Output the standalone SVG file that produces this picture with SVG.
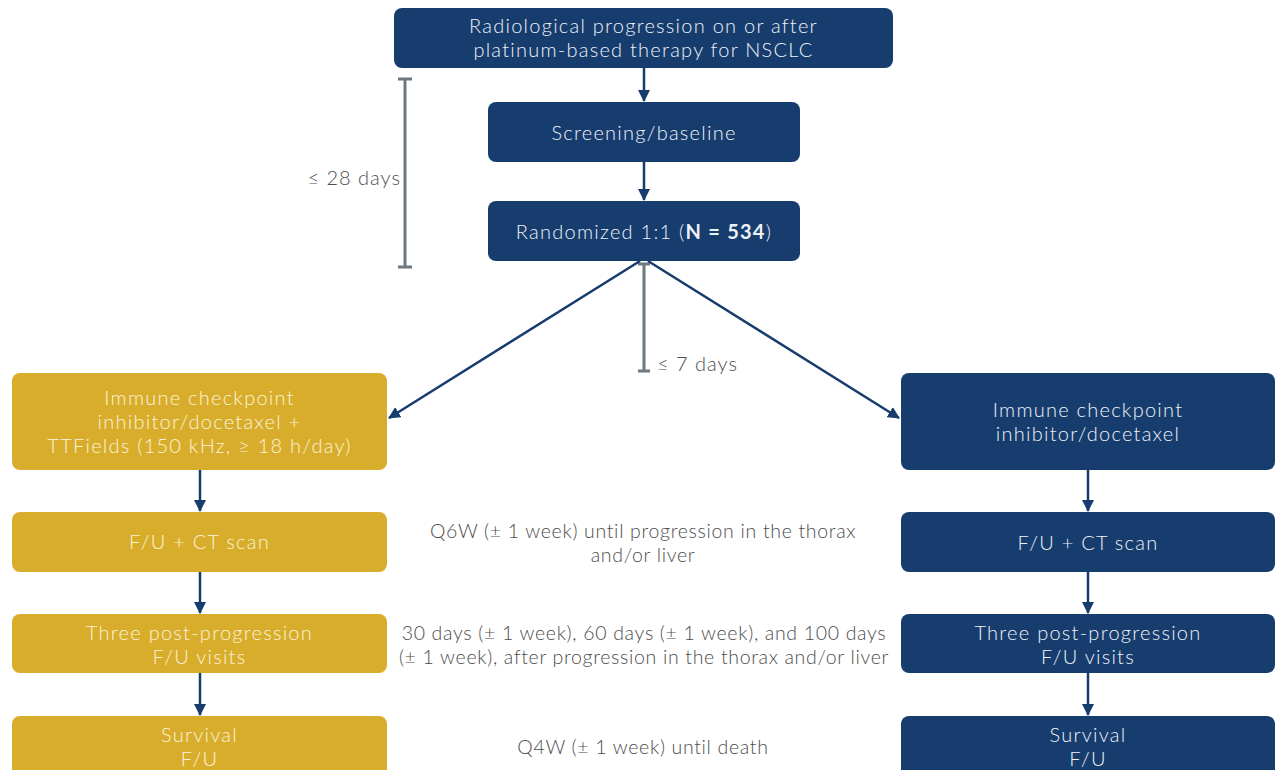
<svg xmlns="http://www.w3.org/2000/svg" width="1276" height="770" viewBox="0 0 1276 770">
  <style>
    .navy { fill: #173d6f; }
    .gold { fill: #d8ad2b; }
    .lbl { font-family: Lato, "Open Sans", "Liberation Sans", sans-serif; font-size: 20px; font-weight: 300; letter-spacing: 1.25px; fill: #eef2f7; text-anchor: middle; }
    .lblg { font-family: Lato, "Open Sans", "Liberation Sans", sans-serif; font-size: 20px; font-weight: 300; letter-spacing: 1.25px; fill: #fbf3dc; text-anchor: middle; }
    .note { font-family: Lato, "Open Sans", "Liberation Sans", sans-serif; font-size: 19.5px; font-weight: 300; letter-spacing: 0.68px; fill: #4d4d4d; text-anchor: middle; }
    .side { font-family: Lato, "Open Sans", "Liberation Sans", sans-serif; font-size: 20px; font-weight: 300; letter-spacing: 1px; fill: #4d4d4d; }
    .edge { stroke: #173d6f; stroke-width: 2.5; fill: none; }
    .span { stroke: #6d787f; stroke-width: 3; fill: none; }
  </style>
  <defs>
    <marker id="ah" viewBox="0 0 12 12" refX="11" refY="6" markerWidth="12" markerHeight="12" markerUnits="userSpaceOnUse" orient="auto">
      <path d="M0,0 L12,6 L0,12 Z" fill="#173d6f"/>
    </marker>
  </defs>
  <rect width="1276" height="770" fill="#ffffff"/>

  <!-- timing brackets -->
  <g id="span-28">
    <path class="span" d="M398,79 H412 M405,79 V267 M398,267 H412"/>
    <text class="side" x="401" y="185" text-anchor="end">≤ 28 days</text>
  </g>
  <g id="span-7">
    <path class="span" d="M638,264 H650 M644,264 V371 M638,371 H650"/>
    <text class="side" x="657" y="371" text-anchor="start">≤ 7 days</text>
  </g>

  <!-- connectors -->
  <g id="connectors">
    <line class="edge" x1="644" y1="68" x2="644" y2="101" marker-end="url(#ah)"/>
    <line class="edge" x1="644" y1="162" x2="644" y2="200" marker-end="url(#ah)"/>
    <line class="edge" x1="640" y1="261" x2="389" y2="418" marker-end="url(#ah)"/>
    <line class="edge" x1="648" y1="261" x2="899" y2="418" marker-end="url(#ah)"/>
    <line class="edge" x1="200" y1="470" x2="200" y2="511" marker-end="url(#ah)"/>
    <line class="edge" x1="200" y1="572" x2="200" y2="613" marker-end="url(#ah)"/>
    <line class="edge" x1="200" y1="673" x2="200" y2="715" marker-end="url(#ah)"/>
    <line class="edge" x1="1088" y1="470" x2="1088" y2="511" marker-end="url(#ah)"/>
    <line class="edge" x1="1088" y1="572" x2="1088" y2="613" marker-end="url(#ah)"/>
    <line class="edge" x1="1088" y1="673" x2="1088" y2="715" marker-end="url(#ah)"/>
  </g>

  <!-- top of flow -->
  <g id="progression">
    <rect class="navy" x="394" y="8" width="499" height="60" rx="8"/>
    <text class="lbl" x="643.5" y="33">Radiological progression on or after<tspan x="643.5" dy="24">platinum-based therapy for NSCLC</tspan></text>
  </g>
  <g id="screening">
    <rect class="navy" x="488" y="102" width="312" height="60" rx="8"/>
    <text class="lbl" x="644" y="140">Screening/baseline</text>
  </g>
  <g id="randomized">
    <rect class="navy" x="488" y="201" width="312" height="60" rx="8"/>
    <text class="lbl" x="644" y="239">Randomized 1:1 (<tspan font-weight="700">N = 534</tspan>)</text>
  </g>

  <!-- TTFields arm -->
  <g id="arm-ttf">
    <rect class="gold" x="12" y="373" width="375" height="97" rx="8"/>
    <text class="lblg" x="199.5" y="405">Immune checkpoint<tspan x="199.5" dy="24">inhibitor/docetaxel +</tspan><tspan x="199.5" dy="24">TTFields (150 kHz, ≥ 18 h/day)</tspan></text>
  </g>
  <g id="ttf-ct">
    <rect class="gold" x="12" y="512" width="375" height="60" rx="8"/>
    <text class="lblg" x="199.5" y="549">F/U + CT scan</text>
  </g>
  <g id="ttf-post">
    <rect class="gold" x="12" y="614" width="375" height="59" rx="8"/>
    <text class="lblg" x="199.5" y="640">Three post-progression<tspan x="199.5" dy="24">F/U visits</tspan></text>
  </g>
  <g id="ttf-survival">
    <rect class="gold" x="12" y="716" width="375" height="70" rx="8"/>
    <text class="lblg" x="199.5" y="742">Survival<tspan x="199.5" dy="24">F/U</tspan></text>
  </g>

  <!-- control arm -->
  <g id="arm-ctrl">
    <rect class="navy" x="901" y="373" width="374" height="97" rx="8"/>
    <text class="lbl" x="1088" y="417">Immune checkpoint<tspan x="1088" dy="24">inhibitor/docetaxel</tspan></text>
  </g>
  <g id="ctrl-ct">
    <rect class="navy" x="901" y="512" width="374" height="60" rx="8"/>
    <text class="lbl" x="1088" y="550">F/U + CT scan</text>
  </g>
  <g id="ctrl-post">
    <rect class="navy" x="901" y="614" width="374" height="59" rx="8"/>
    <text class="lbl" x="1088" y="640">Three post-progression<tspan x="1088" dy="24">F/U visits</tspan></text>
  </g>
  <g id="ctrl-survival">
    <rect class="navy" x="901" y="716" width="374" height="70" rx="8"/>
    <text class="lbl" x="1088" y="742">Survival<tspan x="1088" dy="24">F/U</tspan></text>
  </g>

  <!-- visit schedule notes -->
  <g id="schedule">
    <text class="note" x="643" y="538">Q6W (± 1 week) until progression in the thorax<tspan x="643" dy="24">and/or liver</tspan></text>
    <text class="note" x="644" y="640">30 days (± 1 week), 60 days (± 1 week), and 100 days<tspan x="644" dy="24">(± 1 week), after progression in the thorax and/or liver</tspan></text>
    <text class="note" x="643" y="754">Q4W (± 1 week) until death</text>
  </g>
</svg>
